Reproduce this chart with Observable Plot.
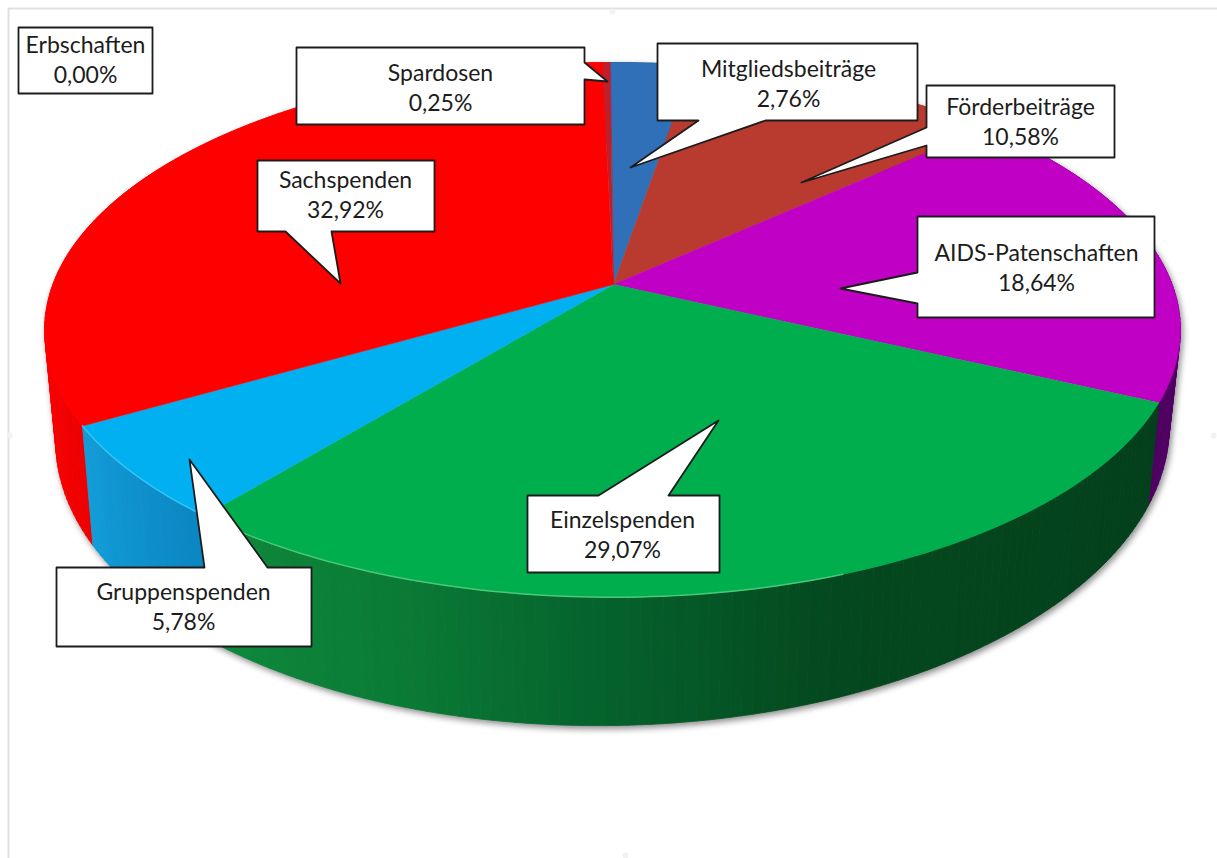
<!DOCTYPE html>
<html><head><meta charset="utf-8">
<style>html,body{margin:0;padding:0;background:#fff}svg{display:block}</style>
<script src="https://cdn.jsdelivr.net/npm/d3@7"></script>
<script src="https://cdn.jsdelivr.net/npm/@observablehq/plot@0.6"></script>
</head><body><div id="chart"></div>
<script>
// Data, clockwise from 12 o'clock
const categories = ["Mitgliedsbeiträge","Förderbeiträge","AIDS-Patenschaften","Einzelspenden","Gruppenspenden","Sachspenden","Spardosen","Erbschaften"];
const shares = [2.76,10.58,18.64,29.07,5.78,32.92,0.25,0];
const topColors = ["#2f70b8","#b93a2e","#c000c4","#00ae4e","#00b0f0","#ff0000","#c01f2a","#ffffff"];
// side wall shade, [degrees clockwise, colour] per slice
const sideShades = [
  [[0,"#1f4f88"],[10,"#1f4f88"]],
  [[10,"#7a2018"],[48,"#7a2018"]],
  [[48,"#6a0080"],[115,"#4d0060"]],
  [[115,"#033f1b"],[161,"#04481f"],[181,"#05622c"],[198,"#0a7a35"],[220,"#0e8a3c"]],
  [[220,"#0a86c2"],[241,"#139ed9"]],
  [[241,"#ee0000"],[262,"#ff0000"],[359,"#ff0000"]],
  [[359,"#ff0000"],[360,"#ff0000"]],
  [[360,"#fff"],[360,"#fff"]]
];
// Callout outlines (annotation layout, in picture pixels)
const callouts = [
  {label:2, at:[1036,266], outline:[[917,216],[1154,216],[1154,317],[917,317],[917,303],[840,288],[917,272]]},
  {label:0, at:[788,82], outline:[[657,43],[917,43],[917,120],[765,120],[630,167],[698,120],[657,120]]},
  {label:1, at:[1020,119.5], outline:[[926,85],[1114,85],[1114,157],[926,157],[926,145],[801,182],[926,127]]},
  {label:3, at:[622,532.5], outline:[[527,495],[598,495],[718,420],[668,495],[719,495],[719,572],[527,572]]},
  {label:4, at:[183,604.5], outline:[[56,567],[204,567],[189,459],[267,567],[311,567],[311,646],[56,646]]},
  {label:5, at:[345,193], outline:[[257,160],[434,160],[434,231],[331,231],[340,283],[285,231],[257,231]]},
  {label:6, at:[440,85.5], outline:[[296,47],[584,47],[584,62],[607,81],[584,79],[584,124],[296,124]]},
  {label:7, at:[85,57.5], outline:[[18,27],[152,27],[152,93],[18,93]]}
];
const frame = {x:[8,8,1217], y:[858,8,8]};
const handles = [{x:612,y:11},{x:9,y:435},{x:1213,y:435},{x:625,y:855}];

// Perspective pie geometry
const pct = d3.format(".2f");
const labelText = i => `${categories[i]}\n${pct(shares[i]).replace(".", ",")}%`;
const k = 0.166, rotation = -0.3;
const topDisc = {cx:612, cy:285, R:560, S:260, t:0};
const botDisc = {cx:612, cy:384.5, R:549, S:284, t:-7.4};
const project = (d, deg) => {
  const a = (deg+rotation)*Math.PI/180, u = Math.sin(a), v = -Math.cos(a), w = 1/(1-k*v);
  return {x:d.cx+d.R*u*w, y:d.cy+d.S*v*w+d.t*u*w, v};
};
const cumulative = d3.cumsum(shares);
const starts = shares.map((s,i)=> (cumulative[i]-s)*3.6);
const ends = shares.map((s,i)=> cumulative[i]*3.6);
const arcAngles = (a,b,step=1) => { const n=Math.max(1,Math.ceil((b-a)/step)); return d3.range(n+1).map(j=>a+(b-a)*j/n); };
const shadeAt = (i,deg) => {
  const st = sideShades[i];
  const scale = d3.scaleLinear().domain(st.map(s=>s[0])).range(st.map(s=>s[1])).interpolate(d3.interpolateRgb).clamp(true);
  return scale(deg);
};

const topPts = [], sideQuads = [];
shares.forEach((s,i)=>{
  if(!s) return;
  topPts.push({id:i,x:topDisc.cx+1,y:topDisc.cy-1,fill:topColors[i]});
  arcAngles(starts[i],ends[i]).forEach(deg=>{const p=project(topDisc,deg);topPts.push({id:i,x:p.x,y:p.y,fill:topColors[i]});});
  const aa = arcAngles(starts[i],ends[i]);
  for(let j=0;j<aa.length-1;j++){
    const a=aa[j],b=aa[j+1],mid=(a+b)/2,c=shadeAt(i,mid);
    const p=[project(topDisc,a),project(topDisc,b),project(botDisc,b),project(botDisc,a)];
    const depth=project(topDisc,mid).v;
    p.forEach(q=>sideQuads.push({id:`${i}-${j}`,x:q.x,y:q.y,fill:c,depth}));
  }
});
sideQuads.sort((a,b)=>a.depth-b.depth);

// bright bevel along the lit front rim
const bevel = [];
[[3,160,219.8,"#48c878"],[4,219.8,240.6,"#35c4f5"]].forEach(([id,a,b,c])=>arcAngles(a,b).forEach(deg=>{const p=project(topDisc,deg);bevel.push({id,x:p.x,y:p.y,c});}));

const outlinePts = callouts.flatMap((c,id)=>c.outline.map(([x,y])=>({id,x,y})));

const chart = Plot.plot({
  width:1217, height:858, margin:0,
  x:{domain:[0,1217],range:[0,1217],axis:null},
  y:{domain:[0,858],range:[0,858],axis:null},
  color:{type:"identity"},
  style:{background:"#fff"},
  marks:[
    Plot.line(frame.x.map((x,i)=>({x,y:frame.y[i]})),{x:"x",y:"y",stroke:"#e0e0e0",strokeWidth:2}),
    Plot.dot(handles,{x:"x",y:"y",r:3,fill:"#f2f2f2"}),
    Plot.line(sideQuads,{x:"x",y:"y",z:"id",fill:"fill",stroke:"fill",strokeWidth:0.8,curve:"linear-closed",imageFilter:"drop-shadow(2px 3px 3px rgba(0,0,0,.45))"}),
    Plot.line(topPts,{x:"x",y:"y",z:"id",fill:"fill",stroke:"fill",strokeWidth:0.6,curve:"linear-closed"}),
    Plot.line(bevel,{x:"x",y:"y",z:"id",stroke:"c",strokeWidth:1.5}),
    Plot.line(outlinePts,{x:"x",y:"y",z:"id",fill:"#fff",stroke:"#1c1c1c",strokeWidth:1.8,curve:"linear-closed"}),
    Plot.text(callouts,{x:d=>d.at[0],y:d=>d.at[1],text:d=>labelText(d.label),fontSize:23,lineHeight:1.3,fill:"#1c1c1c",fontFamily:"Lato, 'Noto Sans', sans-serif"})
  ]
});
document.getElementById("chart").appendChild(chart);
</script></body></html>
